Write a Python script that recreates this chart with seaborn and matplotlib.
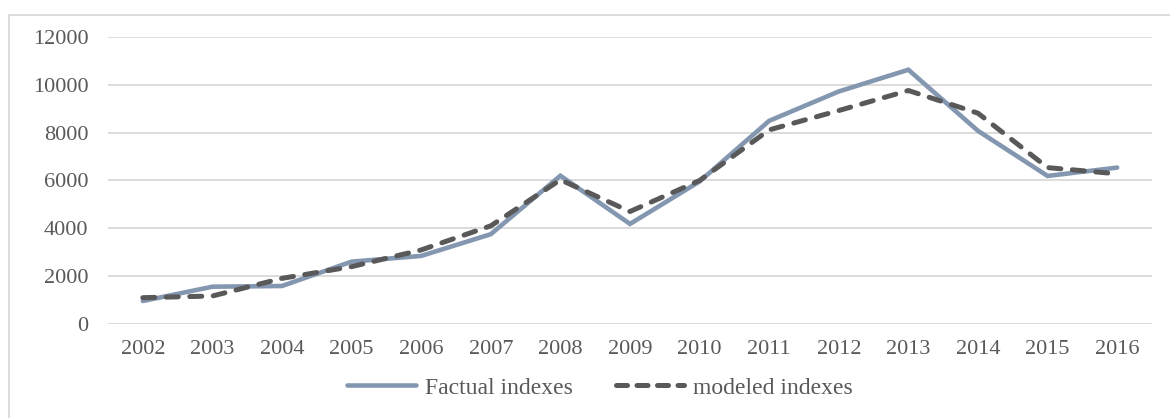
import pandas as pd
import matplotlib.pyplot as plt
import matplotlib.patches as mpatches
import seaborn as sns

# data
years = ["2002", "2003", "2004", "2005", "2006", "2007", "2008", "2009",
         "2010", "2011", "2012", "2013", "2014", "2015", "2016"]
factual = [950, 1550, 1580, 2600, 2840, 3750, 6200, 4180,
           5960, 8500, 9730, 10640, 8080, 6190, 6540]
modeled = [1090, 1160, 1900, 2390, 3090, 4100, 6030, 4700,
           6000, 8120, 8930, 9770, 8820, 6540, 6280]

df = pd.DataFrame({
    "Year": years * 2,
    "Value": factual + modeled,
    "Series": ["Factual indexes"] * len(years) + ["modeled indexes"] * len(years),
})

sns.set_style("white")
plt.rcParams["font.family"] = ["Liberation Serif", "DejaVu Serif"]

fig = plt.figure(figsize=(11.7, 4.18), dpi=100)
ax = fig.add_axes([0.0923, 0.2256, 0.8923, 0.6852])

sns.lineplot(data=df, x="Year", y="Value", hue="Series", style="Series",
             palette={"Factual indexes": "#8497B0", "modeled indexes": "#595959"},
             dashes={"Factual indexes": "", "modeled indexes": (2.4, 2.3)},
             sort=False, ax=ax, legend=False)

lines = ax.get_lines()
lines[0].set_linewidth(3.3)
lines[0].set_solid_capstyle("round")
lines[0].set_solid_joinstyle("miter")
lines[1].set_linewidth(3.6)
lines[1].set_dash_capstyle("round")

ax.set_ylim(0, 12000)
ax.set_xlim(-0.5, len(years) - 0.5)
ax.set_yticks(range(0, 12001, 2000))
ax.yaxis.grid(True, color="#D9D9D9", linewidth=1.3)
ax.set_axisbelow(True)
for s in ax.spines.values():
    s.set_visible(False)
ax.tick_params(axis="both", length=0, labelsize=16, colors="#595959")
ax.tick_params(axis="y", pad=14)
ax.tick_params(axis="x", pad=12)
ax.set_xlabel("")
ax.set_ylabel("")

handles = [
    plt.Line2D([], [], color="#8497B0", lw=3.3, solid_capstyle="round"),
    plt.Line2D([], [], color="#595959", lw=3.6, dashes=(2.2, 1.9), dash_capstyle="round"),
]
fig.legend(handles, ["Factual indexes", "modeled indexes"], loc="center",
           bbox_to_anchor=(0.513, 0.072), ncol=2, frameon=False, fontsize=17,
           handlelength=2.9, handletextpad=0.4, columnspacing=1.8,
           labelcolor="#595959")

# chart border
fig.patches.append(mpatches.Rectangle((9 / 1170, -0.1), 1.2, 1.1 - 14.5 / 418,
                                      transform=fig.transFigure, fill=False,
                                      edgecolor="#D9D9D9", linewidth=1.3))

fig.savefig("out.png", dpi=100)
